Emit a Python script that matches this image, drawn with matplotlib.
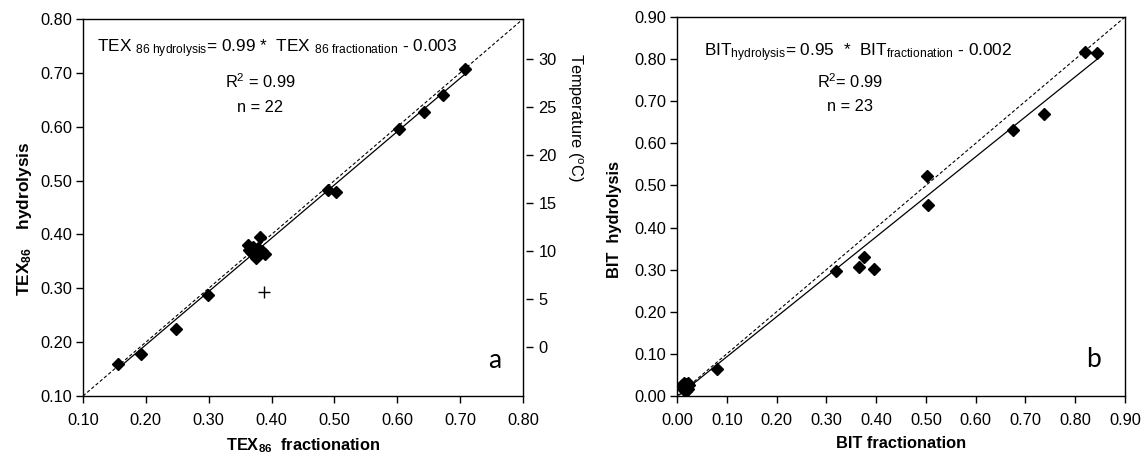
import numpy as np
import matplotlib
matplotlib.use("Agg")
import matplotlib.pyplot as plt

plt.rcParams["font.family"] = ["Liberation Sans", "DejaVu Sans"]
plt.rcParams["mathtext.fontset"] = "custom"
plt.rcParams["mathtext.rm"] = "Liberation Sans"
plt.rcParams["mathtext.bf"] = "Liberation Sans:bold"
plt.rcParams["mathtext.it"] = "Liberation Sans:italic"
FS = 11.8

# ---------- TEX86 : fractionation vs hydrolysis ---------- #
tex_frac = [0.156, 0.193, 0.248, 0.299, 0.381, 0.489, 0.503, 0.603, 0.643, 0.672, 0.708,
            0.362, 0.364, 0.368, 0.370, 0.372, 0.374, 0.376, 0.378, 0.380, 0.384, 0.389]
tex_hyd  = [0.160, 0.178, 0.225, 0.287, 0.395, 0.482, 0.479, 0.596, 0.627, 0.658, 0.707,
            0.380, 0.372, 0.368, 0.377, 0.363, 0.370, 0.357, 0.374, 0.366, 0.369, 0.364]
tex_excl = (0.388, 0.293)          # excluded sample
tex_slope, tex_icpt = 0.99, -0.003

# ---------- BIT : fractionation vs hydrolysis ---------- #
bit_frac = [0.081, 0.319, 0.366, 0.375, 0.396, 0.503, 0.504, 0.674, 0.737, 0.820, 0.843,
            0.010, 0.012, 0.014, 0.015, 0.016, 0.018, 0.019, 0.020, 0.021, 0.022, 0.023, 0.025]
bit_hyd  = [0.065, 0.298, 0.307, 0.329, 0.301, 0.522, 0.454, 0.632, 0.670, 0.817, 0.814,
            0.025, 0.020, 0.030, 0.015, 0.024, 0.012, 0.028, 0.018, 0.022, 0.032, 0.016, 0.027]
bit_slope, bit_icpt = 0.95, -0.002

# TEX86 -> SST calibration used for the right-hand scale
def tex_to_T(t): return -10.78 + 56.2 * t

W, H = 1143, 457
fig = plt.figure(figsize=(W / 100, H / 100), dpi=100)
axA = fig.add_axes([83 / W, 1 - 396 / H, 440 / W, 377 / H])
axB = fig.add_axes([677 / W, 1 - 396 / H, 448 / W, 379 / H])

def style(ax, lo, hi):
    ax.set_xlim(lo, hi); ax.set_ylim(lo, hi)
    ticks = np.arange(lo, hi + 0.001, 0.10)
    ax.set_xticks(ticks); ax.set_yticks(ticks)
    ax.set_xticklabels([f"{t:.2f}" for t in ticks])
    ax.set_yticklabels([f"{t:.2f}" for t in ticks])
    ax.tick_params(direction="out", length=5, width=1, labelsize=FS)
    ax.tick_params(axis="x", pad=7)
    ax.tick_params(axis="y", pad=3)
    for s in ax.spines.values():
        s.set_linewidth(1.0)

# ---------- panel a ---------- #
style(axA, 0.10, 0.80)
axA.plot([0.10, 0.80], [0.10, 0.80], "k", ls=(0, (3, 2)), lw=0.8)
xs = np.array([min(tex_frac), max(tex_frac)])
axA.plot(xs, tex_slope * xs + tex_icpt, "k-", lw=0.9)
axA.plot(tex_frac, tex_hyd, "kD", ms=6.2, ls="none")
axA.plot(*tex_excl, "k+", ms=8, mew=1.0)
axA.text(0.442, 0.92, r"TEX $_{\mathrm{86\ hydrolysis}}$= 0.99 *  TEX $_{\mathrm{86\ fractionation}}$ - 0.003",
         transform=axA.transAxes, ha="center", va="center", fontsize=12.4)
axA.text(0.402, 0.833, r"R$^{\mathrm{2}}$ = 0.99", transform=axA.transAxes,
         ha="center", va="center", fontsize=FS)
axA.text(0.402, 0.764, "n = 22", transform=axA.transAxes,
         ha="center", va="center", fontsize=FS)
axA.text(0.935, 0.095, "a", transform=axA.transAxes, ha="center", va="center",
         fontsize=19, family="Lato")
axA.set_xlabel(r"TEX$_{\mathbf{86}}$  fractionation", fontsize=FS, fontweight="bold", labelpad=6)
fig.text(25 / W, 1 - 219 / H, r"TEX$_{\mathbf{86}}$" + "    hydrolysis", rotation=90,
         ha="center", va="center", fontsize=12.4, fontweight="bold")

# temperature scale
axT = axA.twinx()
axT.set_ylim(tex_to_T(0.10), tex_to_T(0.80))
axT.set_yticks(range(0, 31, 5))
for s in axT.spines.values():
    s.set_visible(False)
axT.spines["right"].set_position(("outward", 2.5))
axT.tick_params(direction="out", length=5, width=1, labelsize=FS, pad=3.5)
fig.text(575 / W, 1 - 118 / H, r"Temperature ($^{\mathrm{o}}$C)", rotation=-90,
         ha="center", va="center", fontsize=FS)

# ---------- panel b ---------- #
style(axB, 0.00, 0.90)
axB.plot([0.0, 0.90], [0.0, 0.90], "k", ls=(0, (3, 2)), lw=0.8)
xs = np.array([0.005, 0.852])
axB.plot(xs, bit_slope * xs + bit_icpt, "k-", lw=0.9)
axB.plot(bit_frac, bit_hyd, "kD", ms=6.2, ls="none")
axB.text(0.404, 0.907, r"BIT$_{\mathrm{hydrolysis}}$= 0.95  *  BIT$_{\mathrm{fractionation}}$ - 0.002",
         transform=axB.transAxes, ha="center", va="center", fontsize=12.4)
axB.text(0.386, 0.83, r"R$^{\mathrm{2}}$= 0.99", transform=axB.transAxes,
         ha="center", va="center", fontsize=FS)
axB.text(0.386, 0.763, "n = 23", transform=axB.transAxes,
         ha="center", va="center", fontsize=FS)
axB.text(0.93, 0.095, "b", transform=axB.transAxes, ha="center", va="center",
         fontsize=19, family="Lato")
axB.set_xlabel("BIT fractionation", fontsize=FS, fontweight="bold", labelpad=6)
fig.text(615 / W, 1 - 220 / H, "BIT  hydrolysis", rotation=90,
         ha="center", va="center", fontsize=FS, fontweight="bold")

fig.savefig("out.png", dpi=100)
